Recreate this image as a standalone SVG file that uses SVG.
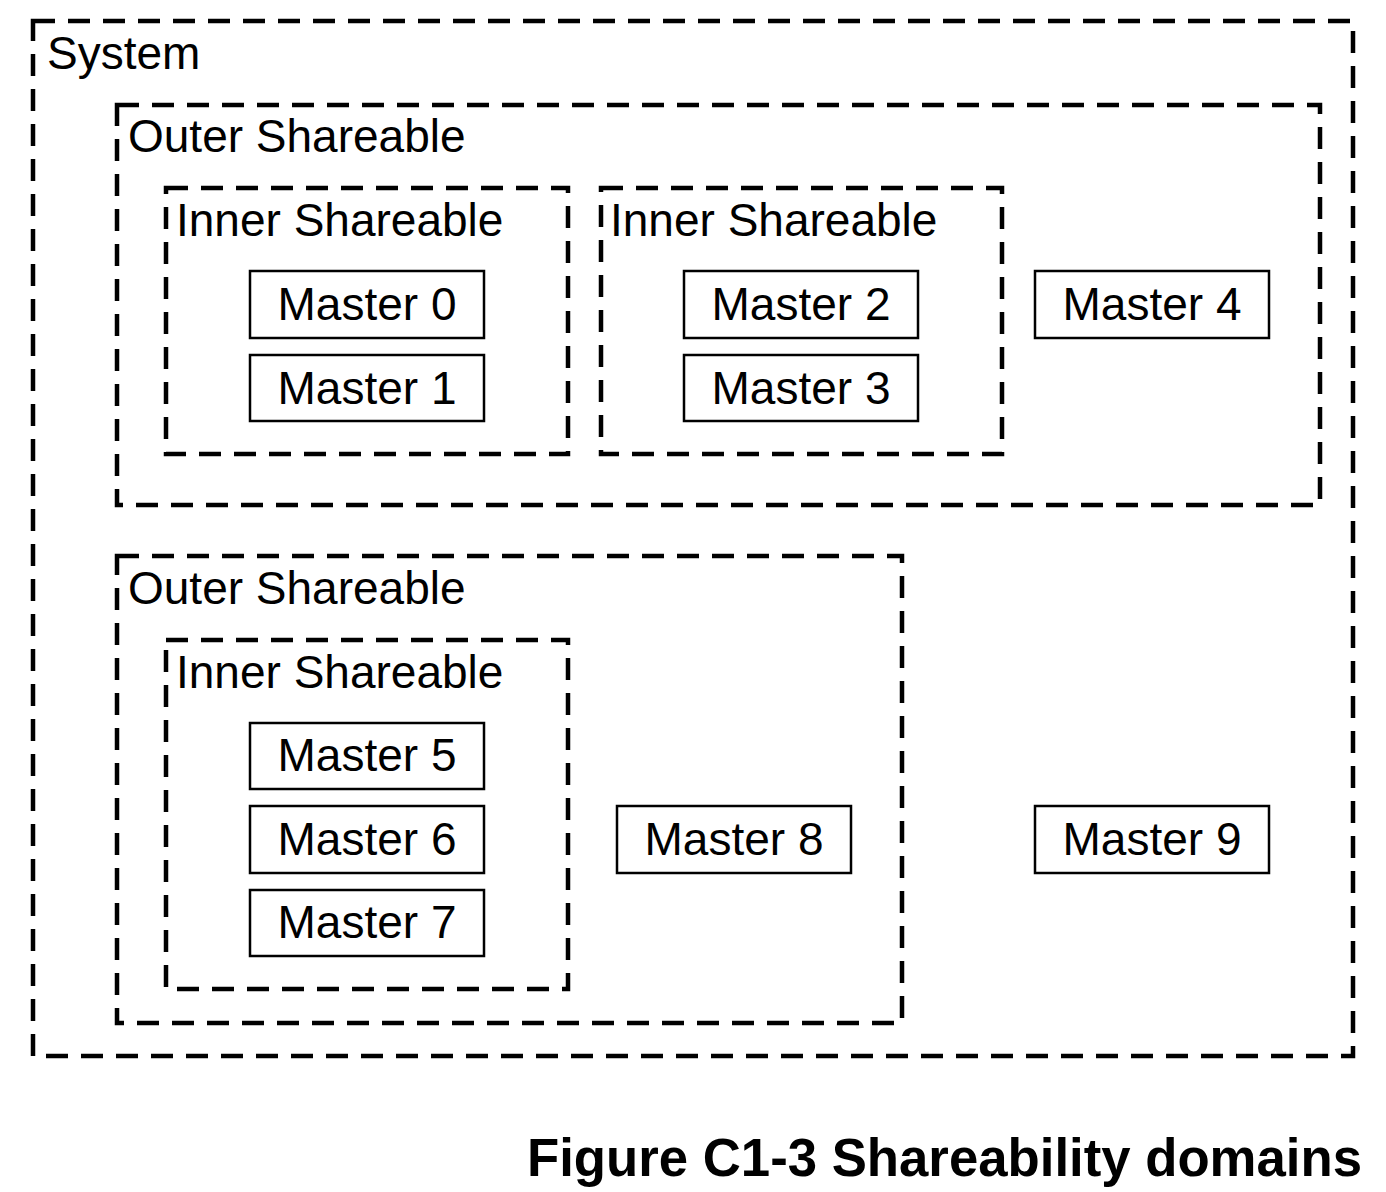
<svg xmlns="http://www.w3.org/2000/svg" width="1386" height="1192" viewBox="0 0 1386 1192">
<style>
.dom{fill:none;stroke:#000;stroke-width:4.5;stroke-dasharray:22 13}
.box{fill:#fff;stroke:#000;stroke-width:2.5}
.lbl{font-family:"Liberation Sans",Arial,sans-serif;font-size:46px;fill:#000}
.m{font-family:"Liberation Sans",Arial,sans-serif;font-size:46px;fill:#000;text-anchor:middle}
.title{font-family:"Liberation Sans",Arial,sans-serif;font-size:54px;font-weight:bold;fill:#000}
</style>
<rect width="1386" height="1192" fill="#fff"/>
<g id="system"><rect class="dom" x="33" y="21" width="1320" height="1035"/><text class="lbl" x="47" y="69">System</text></g>
<g id="outer1"><rect class="dom" x="117" y="105" width="1203" height="400"/><text class="lbl" x="128" y="152">Outer Shareable</text></g>
<g id="inner1"><rect class="dom" x="166" y="188" width="402" height="266"/><text class="lbl" x="176" y="236">Inner Shareable</text></g>
<g id="inner2"><rect class="dom" x="601" y="188" width="401" height="266"/><text class="lbl" x="610" y="236">Inner Shareable</text></g>
<g id="outer2"><rect class="dom" x="117" y="556" width="785" height="467"/><text class="lbl" x="128" y="604">Outer Shareable</text></g>
<g id="inner3"><rect class="dom" x="166" y="640" width="402" height="349"/><text class="lbl" x="176" y="688">Inner Shareable</text></g>
<g id="master0"><rect class="box" x="250" y="271" width="234" height="67"/><text class="m" x="367" y="320">Master 0</text></g>
<g id="master1"><rect class="box" x="250" y="355" width="234" height="66"/><text class="m" x="367" y="404">Master 1</text></g>
<g id="master2"><rect class="box" x="684" y="271" width="234" height="67"/><text class="m" x="801" y="320">Master 2</text></g>
<g id="master3"><rect class="box" x="684" y="355" width="234" height="66"/><text class="m" x="801" y="404">Master 3</text></g>
<g id="master4"><rect class="box" x="1035" y="271" width="234" height="67"/><text class="m" x="1152" y="320">Master 4</text></g>
<g id="master5"><rect class="box" x="250" y="723" width="234" height="66"/><text class="m" x="367" y="771">Master 5</text></g>
<g id="master6"><rect class="box" x="250" y="806" width="234" height="67"/><text class="m" x="367" y="855">Master 6</text></g>
<g id="master7"><rect class="box" x="250" y="890" width="234" height="66"/><text class="m" x="367" y="938">Master 7</text></g>
<g id="master8"><rect class="box" x="617" y="806" width="234" height="67"/><text class="m" x="734" y="855">Master 8</text></g>
<g id="master9"><rect class="box" x="1035" y="806" width="234" height="67"/><text class="m" x="1152" y="855">Master 9</text></g>
<g id="connectors"></g>
<text class="title" x="527" y="1176" textLength="835" lengthAdjust="spacingAndGlyphs">Figure C1-3 Shareability domains</text>
</svg>
